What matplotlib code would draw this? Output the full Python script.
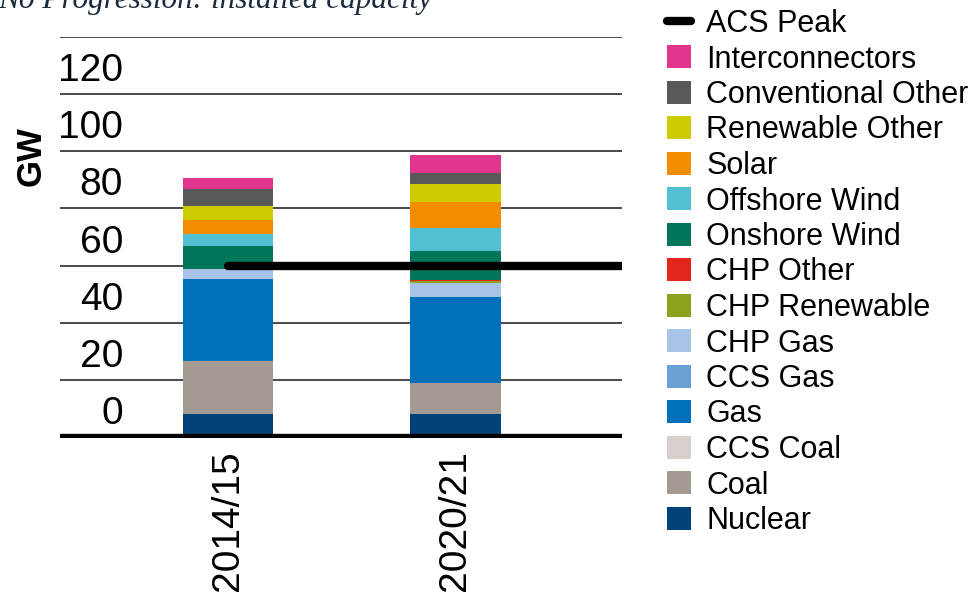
import numpy as np
import matplotlib
matplotlib.use("Agg")
from matplotlib import pyplot as plt
from matplotlib import transforms
from matplotlib.lines import Line2D
from matplotlib.patches import Patch

plt.rcParams['font.family'] = ['Liberation Sans', 'DejaVu Sans']

years = ["2014/15", "2020/21"]

# stack order, bottom to top
techs = ["Nuclear", "Coal", "CCS Coal", "Gas", "CCS Gas", "CHP Gas",
         "CHP Renewable", "CHP Other", "Onshore Wind", "Offshore Wind",
         "Solar", "Renewable Other", "Conventional Other", "Interconnectors"]
colors = ["#004177", "#a39a92", "#d8d0cc", "#0070bb", "#6ca1d6", "#a7c3e8",
          "#8ba21d", "#e2261c", "#00755a", "#52bfd2",
          "#f28c00", "#cdcc00", "#595959", "#e2368e"]

nuclear = [8.2, 8.2]
coal = [18.6, 10.7]
ccs_coal = [0.0, 0.0]
gas = [28.5, 30.2]
ccs_gas = [0.0, 0.0]
chp_gas = [3.7, 5.0]
chp_renewable = [0.0, 0.5]
chp_other = [0.0, 0.3]
onshore = [7.8, 10.2]
offshore = [4.4, 8.1]
solar = [4.9, 9.1]
renew_other = [4.7, 6.1]
conv_other = [5.8, 4.0]
interconnectors = [4.1, 6.2]

acs_peak = [60.0, 60.0]

yticks = [0, 20, 40, 60, 80, 100, 120]
gridlines = [20, 40, 60, 80, 100, 120, 140]

series = [nuclear, coal, ccs_coal, gas, ccs_gas, chp_gas, chp_renewable,
          chp_other, onshore, offshore, solar, renew_other, conv_other,
          interconnectors]

fig = plt.figure(figsize=(9.73, 6.0), dpi=100)
ax = fig.add_axes([60/973, 1-437.5/600, 562/973, 401/600])

x = np.arange(len(years))
xmin, xmax = -0.74, 1.735
bottom = np.zeros(len(years))
for vals, c in zip(series, colors):
    ax.bar(x, vals, bottom=bottom, width=0.4, color=c, zorder=3)
    bottom += np.array(vals)

for g in gridlines:
    ax.axhline(g, color="#2b2b2b", lw=1.2, zorder=1)
ax.axhline(0, color="black", lw=6, zorder=5)

# ACS peak line from first bar to the right edge
ax.plot(list(x) + [xmax], acs_peak + [acs_peak[-1]], color="black", lw=6,
        solid_capstyle="round", zorder=6)

ax.set_xlim(xmin, xmax)
ax.set_ylim(0, 140)
for s in ax.spines.values():
    s.set_visible(False)
ax.set_yticks([])
ax.set_xticks(x)
ax.set_xticklabels(years, rotation=90, fontsize=28, va="top")
ax.tick_params(axis="x", length=0, pad=9)

# y labels sit inside the plot, just above their gridline
off = transforms.ScaledTranslation(0, 13/100, fig.dpi_scale_trans)
for t in yticks:
    ax.text(0.112, t, str(t), fontsize=28, ha="right", va="baseline",
            transform=ax.get_yaxis_transform() + off)

fig.text(31/973, 1-156/600, "GW", rotation=90, fontsize=25, fontweight="bold",
         ha="center", va="center")

fig.text(-0.002, 1-8/600, "No Progression: installed capacity",
         family="Liberation Serif", style="italic", fontsize=22.5,
         color="#1c2b3c", va="baseline", ha="left")

handles = [Line2D([0], [0], color="black", lw=6, solid_capstyle="round")]
labels = ["ACS Peak"]
for name, c in zip(techs[::-1], colors[::-1]):
    handles.append(Patch(facecolor=c, edgecolor="none"))
    labels.append(name)
fig.legend(handles, labels, loc="upper left", bbox_to_anchor=(667/973, 1-9/600),
           frameon=False, fontsize=22, borderpad=0, borderaxespad=0,
           handlelength=0.78, handleheight=0.78, handletextpad=0.5,
           labelspacing=0.18)

fig.savefig("out.png", dpi=100)
